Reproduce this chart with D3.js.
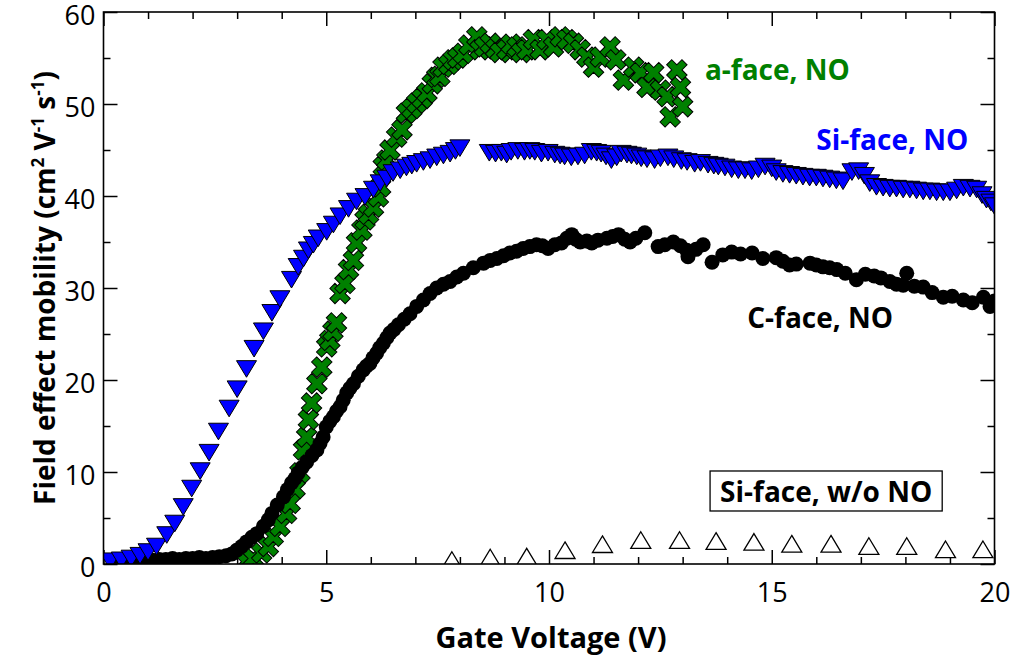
<!DOCTYPE html>
<html><head><meta charset="utf-8">
<script src="https://cdn.jsdelivr.net/npm/d3@7"></script>
<style>body{margin:0;background:#fff} svg{display:block}</style>
</head><body><svg id="c" width="1015" height="658"></svg>
<script>
// ---------- data ----------
const xTicks = [0, 5, 10, 15, 20];
const yTicks = [0, 10, 20, 30, 40, 50, 60];
const xMinor = [1,2,3,4,6,7,8,9,11,12,13,14,16,17,18,19];
const yMinor = [5,15,25,35,45,55];

// Si-face, NO (blue down triangles)
const siNO_V = [0.15,0.4,0.62,0.82,1.0,1.19,1.42,1.6,1.79,1.98,2.17,2.37,2.58,2.82,3.0,3.21,3.38,3.59,3.78,3.96,4.22,4.37,4.49,4.6,4.71,4.82,5.01,5.16,5.31,5.5,5.68,5.87,6.06,6.21,6.36,6.5,6.66,6.8,6.92,7.03,7.18,7.33,7.48,7.63,7.78,7.9,8.0,
 8.66,8.8,8.93,9.05,9.15,9.3,9.45,9.57,9.68,9.83,9.98,10.13,10.25,10.35,10.5,10.65,10.8,10.95,11.07,11.17,11.28,11.4,11.52,11.62,11.75,11.85,11.97,12.07,12.2,12.37,12.5,12.67,12.8,12.97,13.1,13.27,13.4,13.57,13.7,13.8,13.95,14.1,14.25,14.4,14.55,14.7,14.85,15.0,15.1,15.25,15.4,15.55,15.7,15.85,16.0,16.15,16.3,16.45,16.6,16.8,16.95,17.08,17.2,17.35,17.5,17.65,17.8,17.95,18.1,18.25,18.4,18.55,18.7,18.85,19.0,19.15,19.3,19.45,19.6,19.72,19.82,19.92,20.0];
const siNO_mu = [0.3,0.4,0.6,0.9,1.3,1.9,3.15,4.4,6.2,8.2,10.1,12.1,14.4,16.9,19.0,21.2,23.4,25.3,27.3,28.8,30.9,32.3,33.2,34.1,34.7,35.4,36.1,36.9,37.8,38.6,39.4,39.9,40.7,41.4,41.9,42.5,42.8,43.1,43.3,43.5,43.7,43.9,44.2,44.4,44.6,44.9,45.2,
 44.7,44.6,44.7,44.5,44.8,44.9,44.8,44.9,44.8,44.6,44.7,44.5,44.4,44.3,44.2,44.3,44.4,44.8,44.7,44.6,44.3,43.9,44.2,44.6,44.5,44.4,44.3,44.1,44.0,43.9,44.1,44.2,44.0,43.8,43.7,43.5,43.6,43.4,43.3,43.2,43.1,42.9,42.8,42.8,42.7,42.9,43.2,43.0,42.6,42.4,42.3,42.2,42.1,42.0,42.0,41.9,41.8,41.7,41.6,42.6,42.7,42.2,41.4,41.0,40.9,40.8,40.8,40.7,40.7,40.6,40.5,40.5,40.4,40.4,40.4,40.6,40.9,40.8,40.7,40.1,39.6,39.3,38.9];

// C-face, NO (black circles)
const cNO_V = [0.35,0.5,0.65,0.8,0.95,1.1,1.25,1.4,1.55,1.7,1.85,2.0,2.15,2.3,2.45,2.6,2.75,2.88,2.99,3.1,3.21,3.33,3.44,3.59,3.7,3.78,3.9,4.04,4.13,4.22,4.3,4.37,4.46,4.56,4.68,4.79,4.86,4.93,5.0,5.08,5.16,5.23,5.31,5.38,5.46,5.53,5.61,5.72,5.83,5.9,5.98,6.05,6.13,6.2,6.28,6.36,6.43,6.52,6.62,6.75,6.88,7.03,7.18,7.33,7.48,7.63,7.78,7.93,8.08,8.3,8.53,8.68,8.83,8.98,9.12,9.27,9.42,9.57,9.72,9.85,9.98,10.13,10.28,10.4,10.51,10.6,10.7,10.85,10.96,11.1,11.3,11.43,11.56,11.7,11.82,11.95,12.15,12.45,12.6,12.79,12.95,13.09,13.12,13.3,13.46,13.66,13.9,14.1,14.3,14.56,14.8,15.1,15.25,15.4,15.55,15.86,16.0,16.15,16.3,16.46,16.65,16.9,17.1,17.3,17.45,17.65,17.8,17.95,18.03,18.2,18.4,18.6,18.85,19.05,19.3,19.5,19.75,19.9,20.0];
const cNO_mu = [0.4,0.5,0.4,0.5,0.5,0.4,0.5,0.5,0.6,0.5,0.6,0.6,0.7,0.6,0.7,0.8,0.9,1.1,1.5,1.9,2.4,2.9,3.3,4.1,4.8,5.5,6.4,7.3,8.1,8.8,9.3,9.9,10.5,11.1,11.8,12.4,13.1,13.8,14.9,15.5,16.0,16.6,17.1,17.8,18.6,19.1,19.6,20.4,21.1,21.5,21.8,22.4,22.9,23.5,24.0,24.6,25.1,25.5,26.0,26.6,27.2,28.0,28.7,29.4,30.0,30.4,30.7,31.2,31.6,32.2,32.7,33.0,33.2,33.5,33.8,34.0,34.3,34.5,34.7,34.6,34.3,34.7,34.9,35.4,35.8,35.3,35.0,35.1,34.9,35.2,35.4,35.6,35.8,35.3,35.0,35.4,36.0,34.5,34.7,35.0,34.6,34.1,33.4,34.2,34.7,32.8,33.6,33.9,33.7,33.8,33.2,33.3,32.9,32.5,32.6,32.7,32.5,32.3,32.2,32.0,31.6,30.9,31.5,31.3,31.1,30.7,30.4,30.3,31.6,30.2,30.1,29.5,29.0,29.1,28.7,28.4,29.0,28.0,28.6];

// a-face, NO (green crosses)
const aNO_V = [3.21,3.36,3.55,3.7,3.81,3.96,4.11,4.19,4.3,4.41,4.49,4.56,4.6,4.67,4.79,4.9,5.01,5.08,5.15,5.23,5.31,5.42,5.5,5.61,5.68,5.8,5.87,5.95,6.06,6.17,6.22,6.28,6.36,6.43,6.58,6.7,6.8,6.92,7.03,7.15,7.26,7.38,7.48,7.55,7.62,7.75,7.85,7.95,8.07,8.2,8.38,8.45,8.55,8.68,8.8,8.9,9.05,9.15,9.28,9.38,9.5,9.65,9.8,9.95,10.1,10.25,10.4,10.55,10.7,10.85,11.0,11.15,11.37,11.5,11.67,11.9,12.05,12.2,12.35,12.5,12.65,12.72,12.87,12.95,13.0];
const aNO_mu = [0.25,0.6,1.2,1.9,3.0,4.1,5.5,6.6,8.2,9.9,12.4,13.8,15.7,17.5,19.6,21.4,23.6,24.3,25.3,26.2,29.4,30.5,32.0,33.0,34.9,36.3,37.4,38.0,38.8,39.9,41.0,43.2,43.9,45.0,46.4,47.2,49.0,49.5,50.1,50.6,51.2,52.2,52.9,53.0,54.0,54.3,54.8,55.0,55.5,56.4,57.3,55.9,56.2,56.6,56.0,55.6,55.9,56.5,56.2,55.6,55.9,57.0,55.9,57.0,56.2,57.3,57.0,56.6,55.9,55.1,54.0,55.1,56.2,54.8,52.6,54.0,53.4,51.8,53.4,51.5,50.8,48.6,53.7,51.8,49.7];

// Si-face, w/o NO (open up triangles)
const siWo_V = [7.82,8.68,9.5,10.36,11.2,12.06,12.93,13.75,14.6,15.45,16.33,17.18,18.03,18.9,19.74];
const siWo_mu = [0.43,0.7,0.8,1.5,2.15,2.6,2.6,2.5,2.4,2.2,2.2,1.95,1.95,1.6,1.6];

// ---------- layout ----------
const svg = d3.select('#c');
const L = 103.5, R = 994.5, T = 12, B = 564;
const x = d3.scaleLinear().domain([0, 20]).range([L, R]);
const y = d3.scaleLinear().domain([0, 60]).range([B, T]);
const tickFont = "'Open Sans', 'DejaVu Sans', sans-serif";
const boldFont = "'Open Sans', 'DejaVu Sans', sans-serif";

svg.append('defs').append('clipPath').attr('id', 'clip')
  .append('rect').attr('x', L).attr('y', T).attr('width', R - L).attr('height', B - T);

function styleAxis(g, labels) {
  g.select('.domain').remove();
  g.selectAll('.tick line').attr('stroke', '#000').attr('stroke-width', 1.5);
  if (labels) g.selectAll('.tick text').attr('font-family', tickFont).attr('font-size', 27).attr('fill', '#000');
  else g.selectAll('.tick text').remove();
}

// major & minor ticks on all four sides (inward)
svg.append('g').attr('transform', `translate(0,${B})`)
  .call(d3.axisBottom(x).tickValues(xTicks).tickFormat(d3.format('d')).tickSize(-14).tickPadding(19))
  .call(g => styleAxis(g, true));
svg.append('g').attr('transform', `translate(0,${B})`)
  .call(d3.axisBottom(x).tickValues(xMinor).tickSize(-7)).call(g => styleAxis(g, false));
svg.append('g').attr('transform', `translate(0,${T})`)
  .call(d3.axisTop(x).tickValues(xTicks).tickSize(-14)).call(g => styleAxis(g, false));
svg.append('g').attr('transform', `translate(0,${T})`)
  .call(d3.axisTop(x).tickValues(xMinor).tickSize(-7)).call(g => styleAxis(g, false));
svg.append('g').attr('transform', `translate(${L},0)`)
  .call(d3.axisLeft(y).tickValues(yTicks).tickFormat(d3.format('d')).tickSize(-14).tickPadding(8))
  .call(g => { styleAxis(g, true); g.selectAll('.tick text').attr('dy', '0.45em'); });
svg.append('g').attr('transform', `translate(${L},0)`)
  .call(d3.axisLeft(y).tickValues(yMinor).tickSize(-7)).call(g => styleAxis(g, false));
svg.append('g').attr('transform', `translate(${R},0)`)
  .call(d3.axisRight(y).tickValues(yTicks).tickSize(-14)).call(g => styleAxis(g, false));
svg.append('g').attr('transform', `translate(${R},0)`)
  .call(d3.axisRight(y).tickValues(yMinor).tickSize(-7)).call(g => styleAxis(g, false));

// ---------- markers ----------
const plot = svg.append('g').attr('clip-path', 'url(#clip)');
const zip = (a, b) => a.map((v, i) => [v, b[i]]);

const crossPath = d3.symbol(d3.symbolCross, 260)();
plot.append('g').selectAll('path').data(zip(aNO_V, aNO_mu)).join('path')
  .attr('d', crossPath)
  .attr('transform', d => `translate(${x(d[0])},${y(d[1])}) rotate(45)`)
  .attr('fill', '#008000').attr('stroke', '#000').attr('stroke-width', 1);

plot.append('g').selectAll('circle').data(zip(cNO_V, cNO_mu)).join('circle')
  .attr('cx', d => x(d[0])).attr('cy', d => y(d[1])).attr('r', 7.5)
  .attr('fill', '#000');

const downTri = 'M-10,-8.3L10,-8.3L0,8.3Z';
plot.append('g').selectAll('path').data(zip(siNO_V, siNO_mu)).join('path')
  .attr('d', downTri)
  .attr('transform', d => `translate(${x(d[0])},${y(d[1])})`)
  .attr('fill', '#0000ff').attr('stroke', '#000').attr('stroke-width', 1);

const upTri = 'M0,-8.3L10,8.3L-10,8.3Z';
plot.append('g').selectAll('path').data(zip(siWo_V, siWo_mu)).join('path')
  .attr('d', upTri)
  .attr('transform', d => `translate(${x(d[0])},${y(d[1])})`)
  .attr('fill', '#fff').attr('stroke', '#000').attr('stroke-width', 1.3);

// frame
svg.append('rect').attr('x', L).attr('y', T).attr('width', R - L).attr('height', B - T)
  .attr('fill', 'none').attr('stroke', '#000').attr('stroke-width', 1.6);

// ---------- series labels ----------
const labelLayer = svg.append('g');
function label(txt, vx, vy, color) {
  return labelLayer.append('text').attr('x', x(vx)).attr('y', y(vy))
    .attr('font-family', boldFont).attr('font-weight', 700).attr('font-size', 28)
    .attr('fill', color).text(txt);
}
label('a-face, NO', 13.5, 52.6, '#008000');
label('Si-face, NO', 16.0, 45.0, '#0000ff');
label('C-face, NO', 14.45, 25.65, '#000');
const boxT = label('Si-face, w/o NO', 13.84, 6.74, '#000');
const bb = boxT.node().getBBox();
labelLayer.insert('rect', () => boxT.node())
  .attr('x', bb.x - 10).attr('y', y(6.74) - 31).attr('width', bb.width + 20).attr('height', 40)
  .attr('fill', '#fff').attr('stroke', '#000').attr('stroke-width', 1.3);

// ---------- axis titles ----------
svg.append('text').attr('x', (L + R) / 2 + 2).attr('y', 648).attr('text-anchor', 'middle')
  .attr('font-family', boldFont).attr('font-weight', 700).attr('font-size', 29).text('Gate Voltage (V)');

const yt = svg.append('text').attr('transform', `translate(55,${(T + B) / 2}) rotate(-90)`)
  .attr('text-anchor', 'middle').attr('font-family', boldFont).attr('font-weight', 700).attr('font-size', 28);
yt.append('tspan').text('Field effect mobility (cm');
yt.append('tspan').attr('font-size', 17).attr('dy', -11).text('2');
yt.append('tspan').attr('dy', 11).text(' V');
yt.append('tspan').attr('font-size', 17).attr('dy', -11).text('-1');
yt.append('tspan').attr('dy', 11).text(' s');
yt.append('tspan').attr('font-size', 17).attr('dy', -11).text('-1');
yt.append('tspan').attr('dy', 11).text(')');
</script>
</body></html>
